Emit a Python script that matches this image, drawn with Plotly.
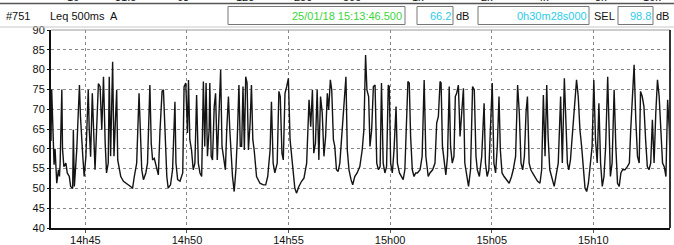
import pandas as pd
import plotly.graph_objects as go

# ---------------- data ----------------
start_time = "2018-01-25 14:43:18.5"
duration_s = 1828

time_s = [
    0, 2, 5, 9, 12, 15, 17, 22, 25, 27, 32, 34, 38, 44, 48, 54, 58, 64, 66, 69,
    76, 84, 87, 94, 98, 103, 110, 113, 117, 122, 125, 130, 140,
    145, 150, 155, 160, 164, 169, 172, 176, 179, 182, 186, 190, 194, 197, 201, 206,
    214, 221, 228, 235, 241, 246, 253, 260, 263, 268, 273, 280, 285, 292, 296, 300,
    305, 312, 317, 322, 328, 332, 337, 342, 346, 353, 359, 366, 369, 374, 381, 389,
    393, 398, 403, 406, 410, 415, 420, 425, 430, 435, 440, 445, 450, 454, 458, 462,
    467, 469, 473, 477, 482, 486, 491, 496, 501, 505, 511, 515, 519, 524, 528, 531,
    536, 541, 546, 550, 555, 559, 563, 567, 571, 575, 579, 583, 588, 592, 596, 600,
    607, 617, 627, 634, 640, 647, 651, 656, 661, 668, 673, 677, 682, 686, 691, 696,
    701, 706, 711, 715, 720, 725, 732, 740, 747, 755, 762, 767, 772, 776, 781, 786,
    791, 796, 801, 806, 811, 816, 820, 825, 829, 834, 838, 843, 848, 853, 858, 863,
    871, 875, 880, 886, 891, 897, 904, 912, 919, 924, 929, 933, 938,
    942, 947, 952, 957, 962, 967, 972, 976, 981, 986, 991, 996, 999, 1003, 1008,
    1013, 1019, 1023, 1029, 1035, 1040, 1045, 1050, 1054, 1058, 1062, 1067, 1072,
    1077, 1082, 1090, 1096, 1102, 1107, 1114, 1119, 1127, 1134, 1139, 1144, 1149,
    1152, 1156, 1160, 1166, 1171, 1176, 1180, 1185, 1190, 1194, 1198, 1203, 1208,
    1212, 1218, 1222, 1227, 1233, 1239, 1245, 1250, 1255, 1259, 1265, 1272, 1279,
    1283, 1288, 1293, 1298, 1303, 1308, 1313, 1318, 1323, 1327, 1332, 1338, 1345,
    1353, 1360, 1365, 1372, 1378, 1383, 1388, 1393, 1398, 1403, 1407, 1412, 1417,
    1422, 1429, 1437, 1444, 1449, 1454, 1459, 1464, 1468, 1473, 1480, 1486, 1491,
    1498, 1505, 1510, 1516, 1521, 1525, 1529, 1534, 1540, 1547, 1552, 1557, 1562,
    1567, 1572, 1577, 1582, 1587, 1591, 1598, 1603, 1608, 1613, 1618, 1623, 1628,
    1633, 1638, 1644, 1649, 1652, 1657, 1663, 1668, 1673, 1678, 1683, 1688, 1695,
    1702, 1708, 1712, 1717, 1722, 1727, 1732, 1737, 1741, 1746, 1751, 1756, 1761,
    1766, 1771, 1776, 1781, 1786, 1791, 1796, 1801, 1806, 1811, 1816, 1821, 1826,
    1828,
]

level_db = [
    62, 75, 67, 56, 60, 54, 51.3, 54.7, 53, 56.4, 75, 60, 55.5, 56.4, 53.9, 53, 50.5, 50, 64.8, 50.5,
    59.7, 76.1, 68.2, 58, 53, 58, 74.9, 64.8, 58, 74, 66.5, 54.7, 76.5,
    75.7, 64.8, 78.2, 61.4, 53.9, 56.4, 78.2, 58.1, 75.7, 82, 58.1, 64.8, 74.9, 57.2, 55.5, 53,
    51.8, 51.3, 50.9, 50.5, 50.1, 53, 56.4, 74, 64.8, 54.7, 52.2, 53.9, 56.4, 76.1, 61.4, 57.2,
    57.6, 54.7, 53.4, 64.8, 74.5, 74.9, 62.3, 53, 50.1, 50.9, 54.7, 71.9, 56.4, 52.2, 51.8, 53.9,
    75.7, 76.6, 64, 77.4, 62.3, 59.7, 54.7, 56.4, 73.6, 56.4, 53.9, 53, 77, 60.6, 76.6, 58.1,
    64.8, 76.6, 58.1, 57.2, 70.7, 74, 57.2, 68.2, 79.9, 60.6, 56.4, 54.7, 64.8, 73.2, 64.8, 59.7,
    53, 49.2, 54.7, 62.3, 76.1, 60.6, 60.6, 75.7, 59.7, 78.2, 76.6, 59.7, 66.5, 76.1, 62.3, 59.7,
    53, 51.3, 50.9, 50.9, 53, 59.7, 71.9, 56.4, 53.9, 56.4, 74.5, 73.2, 58.9, 57.2, 74, 75.7,
    77.8, 62.3, 58.1, 53, 50.1, 48.8, 50.5, 51.8, 52.6, 56.4, 72.4, 65.6, 74.9, 58.9, 61.4, 74.9,
    57.2, 73.2, 69, 58.1, 63.1, 74, 69.8, 77.4, 74.9, 62.3, 60.6, 54.7, 54.3, 56.4, 62.3, 66.5,
    78.2, 59.7, 54.7, 52.2, 50.9, 53, 53.9, 55.5, 59.7, 64.8, 83.7, 74.9, 73.2,
    60.6, 64.8, 75.7, 76.1, 56.4, 54.7, 55.5, 76.6, 56.4, 53.9, 55.5, 76.1, 75.7, 56.4, 53.9,
    59.7, 70.7, 56.4, 53.9, 53, 52.2, 54.7, 64.8, 77, 76.6, 63.1, 54.7, 53,
    53.9, 53.9, 54.7, 58.1, 77.4, 58.1, 53, 53.9, 54.7, 56.4, 66.5, 68.2, 77,
    76.6, 60.6, 58.1, 53.4, 58.1, 75.7, 60.6, 56.4, 58.1, 73.2, 74, 76.1, 63.1,
    69, 75.3, 56.4, 53.9, 50.5, 54.7, 75.7, 74.9, 58.1, 54.7, 53, 58.1, 71.5,
    56.4, 53, 54.7, 66.5, 76.6, 56.4, 53.9, 60.6, 73.2, 59.7, 53.9, 53, 52.2,
    51.3, 53, 54.7, 58.1, 76.1, 69, 56.4, 54.7, 58.1, 69.4, 73.2, 56.4, 54.7,
    53.9, 53, 51.8, 51.3, 54.7, 73.6, 58.1, 76.1, 63.1, 54.7, 52.2, 50.5, 53,
    56.4, 73.2, 56.4, 77.8, 62.3, 56.4, 54.7, 57.2, 64, 73.2, 77.4, 73.2, 64.8,
    60.6, 54.7, 50.1, 49.2, 51.3, 54.7, 60.6, 77.4, 62.3, 56.4, 71.5, 56.4, 50.5,
    53, 60.6, 78.2, 60.6, 53, 56.4, 74.9, 60.6, 51.3, 50.5, 53.9, 54.7, 54.7,
    55.5, 56.4, 64.8, 73.2, 81.2, 67.3, 58.1, 56.4, 74.5, 73.2, 70.7, 62.3, 55.5,
    54.7, 56.4, 67.3, 56.4, 69, 77.4, 73.2, 63.1, 56.4, 55.5, 53, 72.4, 64.8,
    57,
]

y_ticks = [40, 45, 50, 55, 60, 65, 70, 75, 80, 85, 90]
x_tick_times = ["14:45", "14:50", "14:55", "15:00", "15:05", "15:10"]
x_tick_labels = ["14h45", "14h50", "14h55", "15h00", "15h05", "15h10"]

band_labels = ["16", "31.5", "63", "125", "250", "500", "1k", "2k", "4k", "8k", "16k"]
header_id = "#751"
header_param = "Leq 500ms  A"
header_datetime = "25/01/18 15:13:46.500"
header_leq = "66.2"
header_duration = "0h30m28s000"
header_sel = "98.8"

# ---------------- figure ----------------
W, H = 674, 245
L, R, T, B = 51, 4, 30, 17
PW, PH = W - L - R, H - T - B


def xp(px):
    return (px - L) / PW


def yp(py):
    return (H - B - py) / PH


base = pd.Timestamp(start_time)
times = base + pd.to_timedelta(time_s, unit="s")
end = base + pd.Timedelta(seconds=duration_s)

FONT = "Liberation Sans, Arial, sans-serif"

fig = go.Figure()
fig.add_trace(go.Scatter(
    x=times, y=level_db, mode="lines",
    line=dict(color="#141414", width=1.4),
    hoverinfo="skip", showlegend=False,
))

tickvals = [pd.Timestamp("2018-01-25 " + t) for t in x_tick_times]

fig.update_layout(
    width=W, height=H,
    margin=dict(l=L, r=R, t=T, b=B, pad=0),
    paper_bgcolor="white", plot_bgcolor="white",
    font=dict(family=FONT, size=11, color="#111"),
    xaxis=dict(
        range=[base, end], tickvals=tickvals, ticktext=x_tick_labels,
        showgrid=True, gridcolor="#888", griddash="dot", gridwidth=1,
        showline=True, linecolor="#111", linewidth=2,
        ticks="outside", ticklen=3, tickcolor="#555", tickwidth=1,
        ticklabelstandoff=-2,
        tickfont=dict(size=11, color="#111"), zeroline=False, automargin=False,
    ),
    yaxis=dict(
        range=[40, 90], tickvals=y_ticks,
        showgrid=True, gridcolor="#888", griddash="dot", gridwidth=1,
        showline=True, linecolor="#111", linewidth=2,
        ticks="outside", ticklen=2, tickcolor="#111",
        tickfont=dict(size=11, color="#111"), zeroline=False, automargin=False,
    ),
)

shapes = []
# plot frame top (gray) and right (dark)
shapes.append(dict(type="line", xref="paper", yref="paper", x0=0, x1=1, y0=1, y1=1,
                   line=dict(color="#9a9a9a", width=1)))
shapes.append(dict(type="line", xref="paper", yref="paper", x0=1, x1=1, y0=0, y1=1,
                   line=dict(color="#333", width=2)))
# top separator line
shapes.append(dict(type="line", xref="paper", yref="paper", x0=xp(0), x1=xp(W), y0=yp(3.5), y1=yp(3.5),
                   line=dict(color="#555", width=1.5)))
# header row bottom line
shapes.append(dict(type="line", xref="paper", yref="paper", x0=xp(0), x1=xp(W), y0=yp(27), y1=yp(27),
                   line=dict(color="#c8c8c8", width=1)))
# header boxes
for x0, x1 in [(228, 405), (417, 453), (478, 589), (618, 653)]:
    shapes.append(dict(type="rect", xref="paper", yref="paper",
                       x0=xp(x0), x1=xp(x1), y0=yp(24.5), y1=yp(6.5),
                       line=dict(color="#777", width=1), fillcolor="white", layer="below"))
fig.update_layout(shapes=shapes)

ann = []


def text(s, px, py, anchor="left", color="#111", size=11):
    ann.append(dict(text=s, xref="paper", yref="paper", x=xp(px), y=yp(py),
                    xanchor=anchor, yanchor="middle", showarrow=False,
                    font=dict(family=FONT, size=size, color=color)))


band_x = [73, 125, 183, 245, 303, 352, 418, 487, 543, 601, 652]
for lab, bx in zip(band_labels, band_x):
    text(lab, bx, -3, anchor="center")

text(header_id, 4, 16)
text(header_param, 48, 16)
text(header_datetime, 404, 16, anchor="right", color="#3ad63a")
text(header_leq, 453, 16, anchor="right", color="#2ccbe8")
text("dB", 454, 16)
text(header_duration, 589, 16, anchor="right", color="#2ccbe8")
text("SEL", 592, 16)
text(header_sel, 653, 16, anchor="right", color="#2ccbe8")
text("dB", 654, 16)

fig.update_layout(annotations=ann)

fig.write_html(
    "out.html",
    config={"displayModeBar": False, "staticPlot": True},
    post_script="document.body.style.margin='0';document.body.style.overflow='hidden';",
)
